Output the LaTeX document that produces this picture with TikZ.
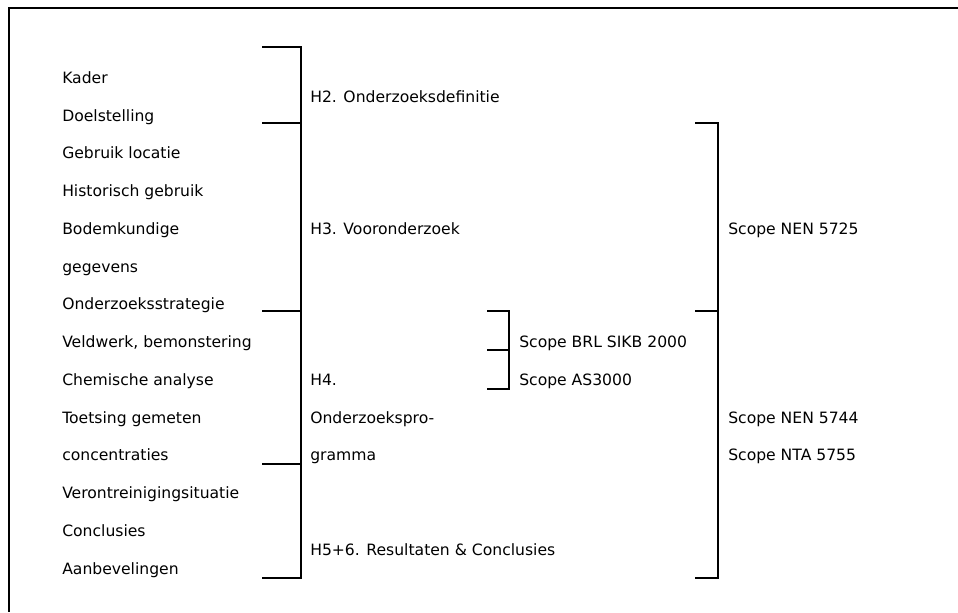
\documentclass[tikz,border=0pt]{standalone}
\usepackage{fontspec}
\setmainfont{DejaVu Sans}
\begin{document}
\begin{tikzpicture}[x=0.75pt,y=-0.75pt,
  lbl/.style={anchor=base west,inner sep=0pt,font=\fontsize{11.7}{14}\selectfont},
  brk/.style={line width=1.5pt,line cap=butt,line join=miter}]
\useasboundingbox (0,0) rectangle (958,612);
% frame (top and left only)
\draw[brk] (958,7.5) -- (9,7.5) -- (9,612);
% left column
\node[lbl] (l1)  at (62,83.3)  {Kader};
\node[lbl] (l2)  at (62,121.0) {Doelstelling};
\node[lbl] (l3)  at (62,158.8) {Gebruik locatie};
\node[lbl] (l4)  at (62,196.6) {Historisch gebruik};
\node[lbl] (l5)  at (62,234.3) {Bodemkundige};
\node[lbl] (l6)  at (62,272.1) {gegevens};
\node[lbl] (l7)  at (62,309.8) {Onderzoeksstrategie};
\node[lbl] (l8)  at (62,347.6) {Veldwerk, bemonstering};
\node[lbl] (l9)  at (62,385.3) {Chemische analyse};
\node[lbl] (l10) at (62,423.1) {Toetsing gemeten};
\node[lbl] (l11) at (62,460.9) {concentraties};
\node[lbl] (l12) at (62,498.6) {Verontreinigingsituatie};
\node[lbl] (l13) at (62,536.4) {Conclusies};
\node[lbl] (l14) at (62,574.1) {Aanbevelingen};
% chapter labels
\node[lbl] (h2) at (310,102.2) {H2. Onderzoeksdefinitie};
\node[lbl] (h3) at (310,234.3) {H3. Vooronderzoek};
\node[lbl] (h4a) at (310,385.3) {H4.};
\node[lbl] (h4b) at (310,423.1) {Onderzoekspro-};
\node[lbl] (h4c) at (310,460.9) {gramma};
\node[lbl] (h5) at (310,555.3) {H5+6. Resultaten \& Conclusies};
% middle scopes
\node[lbl] (s1) at (519,347.6) {Scope BRL SIKB 2000};
\node[lbl] (s2) at (519,385.3) {Scope AS3000};
% right scopes
\node[lbl] (r1) at (728,234.3) {Scope NEN 5725};
\node[lbl] (r2) at (728,423.1) {Scope NEN 5744};
\node[lbl] (r3) at (728,460.9) {Scope NTA 5755};
% left bracket
\coordinate (la) at (262,47);
\coordinate (lb) at (262,578);
\draw[brk] (la) -| (301,578) -- (lb);
\foreach \yy in {123,311,464} \draw[brk] (262,\yy) -- (301,\yy);
% middle bracket
\coordinate (ma) at (487,311);
\coordinate (mb) at (487,389);
\draw[brk] (ma) -| (509,389) -- (mb);
\draw[brk] (487,350) -- (509,350);
% right bracket
\coordinate (ra) at (695,123);
\coordinate (rb) at (695,578);
\draw[brk] (ra) -| (718,578) -- (rb);
\draw[brk] (695,311) -- (718,311);
\end{tikzpicture}
\end{document}
